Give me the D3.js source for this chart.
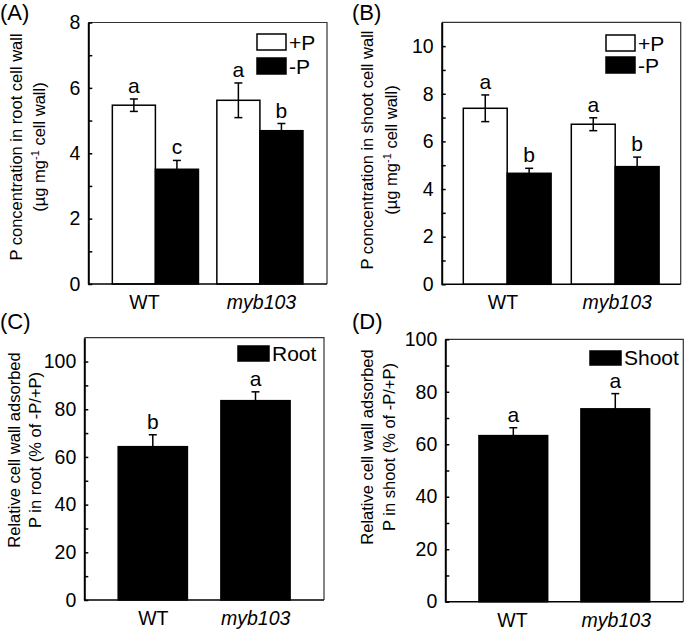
<!DOCTYPE html>
<html>
<head>
<meta charset="utf-8">
<script src="https://cdn.jsdelivr.net/npm/d3@7"></script>
<style>
  html, body { margin: 0; padding: 0; background: #fff; }
  svg { display: block; font-family: "Liberation Sans", Arial, Helvetica, sans-serif; }
</style>
</head>
<body>
<svg id="chart" width="685" height="631"></svg>
<script>
// ---------------- data ----------------
const categories = ["WT", "myb103"];
const treatments = ["+P", "-P"];

// (A) root cell wall P (µg mg-1 cell wall)
const rootPlusP = [5.47, 5.62];
const rootPlusPErr = [0.19, 0.53];
const rootPlusPLetters = ["a", "a"];
const rootMinusP = [3.51, 4.69];
const rootMinusPErr = [0.27, 0.22];
const rootMinusPLetters = ["c", "b"];

// (B) shoot cell wall P
const shootPlusP = [7.39, 6.72];
const shootPlusPErr = [0.56, 0.27];
const shootPlusPLetters = ["a", "a"];
const shootMinusP = [4.66, 4.94];
const shootMinusPErr = [0.21, 0.40];
const shootMinusPLetters = ["b", "b"];

// (C) relative root (% of -P/+P)
const relRoot = [64.3, 83.6];
const relRootErr = [5.0, 3.7];
const relRootLetters = ["b", "a"];

// (D) relative shoot
const relShoot = [63.3, 73.5];
const relShootErr = [3.0, 5.8];
const relShootLetters = ["a", "a"];

// tick values
const ticksA = [0, 2, 4, 6, 8];
const minorA = [1, 3, 5, 7];
const ticksB = [0, 2, 4, 6, 8, 10];
const minorB = [1, 3, 5, 7, 9];
const ticksC = [0, 20, 40, 60, 80, 100];
const minorC = [10, 30, 50, 70, 90];
const ticksD = [0, 20, 40, 60, 80, 100];
const minorD = [10, 30, 50, 70, 90];

// ---------------- drawing ----------------
const svg = d3.select("#chart");

function drawPanel(cfg) {
  const g = svg.append("g");
  const y = d3.scaleLinear().domain(cfg.yDomain).range([cfg.y1, cfg.y0]);
  const x = d3.scaleBand().domain(categories).range([cfg.x0, cfg.x1])
    .paddingInner(cfg.padIn).paddingOuter(cfg.padOut);
  const sub = d3.scaleBand().domain(cfg.series.map(s => s.name)).range([0, x.bandwidth()]);

  // bars
  cfg.series.forEach(s => {
    g.selectAll(null).data(categories).enter().append("rect")
      .attr("x", (c) => x(c) + sub(s.name))
      .attr("y", (c, i) => y(s.values[i]))
      .attr("width", sub.bandwidth())
      .attr("height", (c, i) => y(0) - y(s.values[i]))
      .attr("fill", s.fill)
      .attr("stroke", "#000")
      .attr("stroke-width", 1.5);
  });
  // error bars + letters
  const cap = 4;
  cfg.series.forEach(s => {
    categories.forEach((c, i) => {
      const cx = x(c) + sub(s.name) + sub.bandwidth() / 2;
      const hi = y(s.values[i] + s.errs[i]);
      const lo = y(s.values[i] - s.errs[i]);
      g.append("line").attr("x1", cx).attr("x2", cx).attr("y1", hi).attr("y2", lo)
        .attr("stroke", "#000").attr("stroke-width", 1.5);
      [hi, lo].forEach(yy => g.append("line").attr("x1", cx - cap).attr("x2", cx + cap)
        .attr("y1", yy).attr("y2", yy).attr("stroke", "#000").attr("stroke-width", 1.5));
      g.append("text").attr("x", cx).attr("y", hi - 6).attr("text-anchor", "middle")
        .attr("font-size", 21).text(s.letters[i]);
    });
  });

  // frame: top and right thin
  g.append("path")
    .attr("d", `M${cfg.x0},${cfg.y0}H${cfg.x1}V${cfg.y1}`)
    .attr("fill", "none").attr("stroke", "#333").attr("stroke-width", 1.2);

  // left axis (major)
  const ax = g.append("g").attr("transform", `translate(${cfg.x0},0)`)
    .call(d3.axisLeft(y).tickValues(cfg.ticks).tickSizeInner(-4).tickSizeOuter(0).tickPadding(8));
  ax.select(".domain").attr("stroke-width", 2);
  ax.selectAll(".tick line").attr("stroke-width", 1.5);
  ax.selectAll(".tick text").attr("font-size", 19.5).attr("font-family", null).attr("fill", "#000");
  // minor ticks
  const mx = g.append("g").attr("transform", `translate(${cfg.x0},0)`)
    .call(d3.axisLeft(y).tickValues(cfg.minor).tickSizeInner(-4).tickSizeOuter(0).tickFormat(""));
  mx.select(".domain").remove();
  mx.selectAll(".tick line").attr("stroke-width", 1.5);

  // bottom axis with category labels
  const lx = d3.scalePoint().domain(categories).range(cfg.labelRange);
  const bx = g.append("g").attr("transform", `translate(0,${cfg.y1})`)
    .call(d3.axisBottom(lx).tickSize(0).tickPadding(11));
  bx.select(".domain").attr("d", `M${cfg.x0},0H${cfg.x1}`).attr("stroke-width", 1.5);
  bx.selectAll(".tick text").attr("font-size", 19.5).attr("font-family", null).attr("fill", "#000")
    .attr("font-style", d => d === "myb103" ? "italic" : "normal");

  // y title
  const cy = cfg.titleY;
  cfg.titleLines.forEach((ln, k) => {
    const t = g.append("text")
      .attr("transform", `translate(${cfg.titleX[k]},${cy}) rotate(-90)`)
      .attr("text-anchor", "middle").attr("font-size", 16.5);
    ln.forEach(part => {
      const ts = t.append("tspan").text(part.t);
      if (part.sup) ts.attr("baseline-shift", "super").attr("font-size", 11);
    });
  });

  // legend
  cfg.legend.forEach((L, k) => {
    g.append("rect").attr("x", L.x).attr("y", L.y).attr("width", L.w).attr("height", L.h)
      .attr("fill", L.fill).attr("stroke", "#000").attr("stroke-width", 1.5);
    g.append("text").attr("x", L.x + L.w + 3).attr("y", L.y + L.h)
      .attr("font-size", 21).text(L.label);
  });

  // panel label
  g.append("text").attr("x", cfg.labelPos[0]).attr("y", cfg.labelPos[1])
    .attr("font-size", 22).text(cfg.panelLabel);
}

drawPanel({
  panelLabel: "(A)", labelPos: [0, 20],
  x0: 88.3, x1: 327, y0: 22.5, y1: 284,
  yDomain: [0, 8], ticks: ticksA, minor: minorA,
  padIn: 0.176, padOut: 0.23,
  labelRange: [144, 261],
  series: [
    { name: treatments[0], values: rootPlusP, errs: rootPlusPErr, letters: rootPlusPLetters, fill: "#fff" },
    { name: treatments[1], values: rootMinusP, errs: rootMinusPErr, letters: rootMinusPLetters, fill: "#000" }
  ],
  titleX: [21.5, 45], titleY: 147,
  titleLines: [[{ t: "P concentration in root cell wall" }],
               [{ t: "(µg mg" }, { t: "-1", sup: true }, { t: " cell wall)" }]],
  legend: [
    { x: 257, y: 34, w: 29, h: 16, fill: "#fff", label: treatments[0] },
    { x: 257, y: 58, w: 29, h: 16, fill: "#000", label: treatments[1] }
  ]
});

drawPanel({
  panelLabel: "(B)", labelPos: [352, 20],
  x0: 441.7, x1: 680.7, y0: 22.3, y1: 284.3,
  yDomain: [0, 11], ticks: ticksB, minor: minorB,
  padIn: 0.187, padOut: 0.2,
  labelRange: [502.5, 616.7],
  series: [
    { name: treatments[0], values: shootPlusP, errs: shootPlusPErr, letters: shootPlusPLetters, fill: "#fff" },
    { name: treatments[1], values: shootMinusP, errs: shootMinusPErr, letters: shootMinusPLetters, fill: "#000" }
  ],
  titleX: [373.3, 397], titleY: 150,
  titleLines: [[{ t: "P concentration in shoot cell wall" }],
               [{ t: "(µg mg" }, { t: "-1", sup: true }, { t: " cell wall)" }]],
  legend: [
    { x: 606, y: 35, w: 29, h: 16, fill: "#fff", label: treatments[0] },
    { x: 606, y: 57, w: 29, h: 16, fill: "#000", label: treatments[1] }
  ]
});

drawPanel({
  panelLabel: "(C)", labelPos: [0, 329],
  x0: 84.3, x1: 324, y0: 337.7, y1: 600,
  yDomain: [0, 110], ticks: ticksC, minor: minorC,
  padIn: 0.326, padOut: 0.33,
  labelRange: [152.8, 255.2],
  series: [
    { name: "Root", values: relRoot, errs: relRootErr, letters: relRootLetters, fill: "#000" }
  ],
  titleX: [20, 40.5], titleY: 450,
  titleLines: [[{ t: "Relative cell wall adsorbed" }],
               [{ t: "P in root (% of -P/+P)" }]],
  legend: [
    { x: 238, y: 346, w: 31, h: 15, fill: "#000", label: "Root" }
  ]
});

drawPanel({
  panelLabel: "(D)", labelPos: [352, 329],
  x0: 445.3, x1: 683.3, y0: 339.3, y1: 601.7,
  yDomain: [0, 100], ticks: ticksD, minor: minorD,
  padIn: 0.326, padOut: 0.33,
  labelRange: [512, 615.8],
  series: [
    { name: "Shoot", values: relShoot, errs: relShootErr, letters: relShootLetters, fill: "#000" }
  ],
  titleX: [373.3, 395], titleY: 447,
  titleLines: [[{ t: "Relative cell wall adsorbed" }],
               [{ t: "P in shoot (% of -P/+P)" }]],
  legend: [
    { x: 590, y: 351, w: 31, h: 14, fill: "#000", label: "Shoot" }
  ]
});
</script>
</body>
</html>
